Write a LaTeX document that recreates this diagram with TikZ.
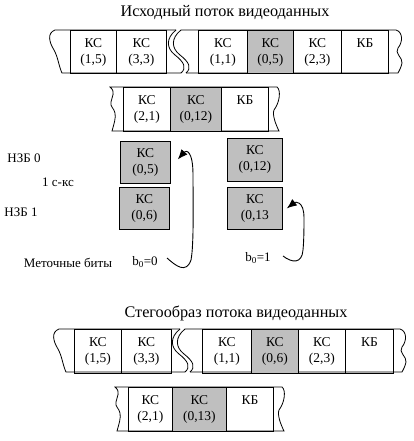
\documentclass[tikz,border=0pt]{standalone}
\usepackage{fontspec}
\setmainfont{Liberation Serif}
\usetikzlibrary{arrows.meta}
\begin{document}
\begin{tikzpicture}[x=1pt,y=-1pt,
  ln/.style={line width=0.8pt},
  cell/.style={draw, line width=0.8pt, inner sep=0pt, minimum height=43.5pt, align=center,
    anchor=north west, font=\fontsize{13.5}{16}\selectfont},
  cw/.style={minimum width=#1},
  grey/.style={fill=gray!50},
  lbl/.style={inner sep=0pt, font=\fontsize{13}{15}\selectfont},
  ttl/.style={inner sep=0pt, font=\fontsize{16.2}{19}\selectfont},
  arr/.style={line width=0.9pt, -{Latex[length=10pt,width=8pt]}}
]
\useasboundingbox (0,0) rectangle (413,441);

% ---------- titles
\node[ttl] (t1) at (225,13) {Исходный поток видеоданных};
\node[ttl] (t2) at (236,313) {Стегообраз потока видеоданных};

% ---------- row 1 (original stream)
\draw[ln] (176,30) -- (55,30) .. controls (47,33) and (49,42) .. (54,50)
  .. controls (58,57) and (59,67) .. (62,73) -- (181,73);
\draw[ln] (176,30) .. controls (166,38) and (166,48) .. (175,55) .. controls (184,62) and (187,68) .. (181,73);
\draw[ln] (181,30) .. controls (171,38) and (171,48) .. (180,55) .. controls (189,62) and (192,68) .. (186,73);
\draw[ln] (181,30) -- (396,30) .. controls (403,32) and (403,42) .. (398,48)
  .. controls (394,53) and (403,58) .. (402,63) .. controls (401,68) and (399,71) .. (398,73) -- (186,73);
\node[cell,cw=46] (a1) at (70,30) {КС\\(1,5)};
\node[cell,cw=50] (a2) at (116,30) {КС\\(3,3)};
\node[cell,cw=49] (a3) at (198,30) {КС\\(1,1)};
\node[cell,cw=46,grey] (a4) at (247,30) {КС\\(0,5)};
\node[cell,cw=48] (a5) at (293,30) {КС\\(2,3)};
\node[cell,cw=47] (a6) at (341,30) {КБ\\\phantom{(}};

% ---------- row 2
\draw[ln] (112,131) .. controls (114,124) and (116,118) .. (115,113)
  .. controls (114,108) and (110,107) .. (111,102) .. controls (112,96) and (116,92) .. (110,87)
  -- (277,87) .. controls (281,90) and (280,102) .. (274,110)
  .. controls (272,115) and (276,125) .. (279,131) -- cycle;
\node[cell,cw=47] (b1) at (123,87) {КС\\(2,1)};
\node[cell,cw=51,grey] (b2) at (170,87) {КС\\(0,12)};
\node[cell,cw=47] (b3) at (221,87) {КБ\\\phantom{(}};

% ---------- separate blocks
\node[cell,cw=50,grey,minimum height=42] (n05) at (120,141) {КС\\(0,5)};
\node[cell,cw=50,grey,minimum height=42] (n06) at (119,187) {КС\\(0,6)};
\node[cell,cw=55,grey,minimum height=43] (n12) at (227,138) {КС\\(0,12)};
\node[cell,cw=55,grey,minimum height=42] (n13) at (227,187) {КС\\(0,13};

\node[lbl] (l1) at (24,158) {НЗБ 0};
\node[lbl] (l2) at (58,182) {1 с-кс};
\node[lbl] (l3) at (21,212) {НЗБ 1};
\node[lbl] (l4) at (68,263) {Меточные биты};
\node[lbl] (l5) at (145,262) {b\textsubscript{0}=0};
\node[lbl] (l6) at (258,258) {b\textsubscript{0}=1};

\coordinate (s1) at (167,258);
\coordinate (s2) at (283,256);
\draw[arr] (s1) .. controls (176,266) and (186,274) .. (191,260)
  .. controls (194,245) and (193,200) .. (193,175)
  .. controls (193,150) and (186,150) .. ([xshift=7pt,yshift=3pt]n05.east);
\draw[arr] (s2) .. controls (292,263) and (302,264) .. (303,250)
  .. controls (304,240) and (304,225) .. (304,218)
  .. controls (304,200) and (295,202) .. ([xshift=4pt,yshift=0pt]n13.east);

% ---------- row 3 (stego stream)
\begin{scope}[shift={(4,299)}]
\draw[ln] (176,30) -- (55,30) .. controls (47,33) and (49,42) .. (54,50)
  .. controls (58,57) and (59,67) .. (62,73) -- (181,73);
\draw[ln] (176,30) .. controls (166,38) and (166,48) .. (175,55) .. controls (184,62) and (187,68) .. (181,73);
\draw[ln] (181,30) .. controls (171,38) and (171,48) .. (180,55) .. controls (189,62) and (192,68) .. (186,73);
\draw[ln] (181,30) -- (396,30) .. controls (403,32) and (403,42) .. (398,48)
  .. controls (394,53) and (403,58) .. (402,63) .. controls (401,68) and (399,71) .. (398,73) -- (186,73);
\node[cell,cw=47] (c1) at (70,30) {КС\\(1,5)};
\node[cell,cw=50] (c2) at (117,30) {КС\\(3,3)};
\node[cell,cw=49] (c3) at (198,30) {КС\\(1,1)};
\node[cell,cw=47,grey] (c4) at (247,30) {КС\\(0,6)};
\node[cell,cw=47] (c5) at (294,30) {КС\\(2,3)};
\node[cell,cw=48] (c6) at (341,30) {КБ\\\phantom{(}};
\end{scope}

% ---------- row 4
\begin{scope}[shift={(5,300)}]
\draw[ln] (112,131) .. controls (114,124) and (116,118) .. (115,113)
  .. controls (114,108) and (110,107) .. (111,102) .. controls (112,96) and (116,92) .. (110,87)
  -- (277,87) .. controls (281,90) and (280,102) .. (274,110)
  .. controls (272,115) and (276,125) .. (279,131) -- cycle;
\node[cell,cw=44] (d1) at (123,87) {КС\\(2,1)};
\node[cell,cw=54,grey] (d2) at (167,87) {КС\\(0,13)};
\node[cell,cw=47] (d3) at (221,87) {КБ\\\phantom{(}};
\end{scope}
\end{tikzpicture}
\end{document}
